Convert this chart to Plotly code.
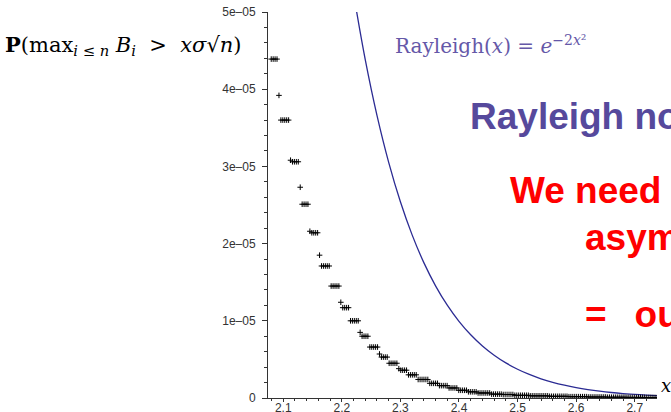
import plotly.graph_objects as go

# ---- data ----
# staircase of simulated probabilities (units of 1e-5), run-length: level, number of samples
step_levels = [4.39, 3.92, 3.60, 3.08, 3.06, 2.73, 2.51, 2.16, 2.14, 1.85, 1.71, 1.45,
               1.24, 1.17, 1.00, 0.85, 0.80, 0.66, 0.57, 0.53, 0.45, 0.38, 0.36, 0.30,
               0.24, 0.19, 0.16, 0.13, 0.10, 0.08, 0.065, 0.05, 0.045, 0.035, 0.028,
               0.022, 0.017, 0.013, 0.010, 0.008, 0.006]
step_counts = [4, 1, 5, 1, 4, 1, 4, 1, 4, 1, 5, 5,
               1, 4, 5, 1, 4, 5, 1, 4, 5, 1, 4, 5,
               6, 5, 5, 5, 5, 5, 7, 6, 6, 8, 10,
               10, 10, 10, 10, 10, 7]
sample_x_first = 2.0795
sample_x_spacing = 0.0033

# Rayleigh curve values e^{-2x^2}
ray_x = [2.22, 2.24, 2.26, 2.28, 2.30, 2.32, 2.34, 2.36, 2.38, 2.40, 2.42, 2.44, 2.46, 2.48,
         2.50, 2.52, 2.54, 2.56, 2.58, 2.60, 2.62, 2.64, 2.66, 2.68, 2.70, 2.72, 2.74]
ray_y = [5.2390e-5, 4.3830e-5, 3.6609e-5, 3.0531e-5, 2.5419e-5, 2.1130e-5, 1.7537e-5,
         1.4532e-5, 1.2021e-5, 9.929e-6, 8.188e-6, 6.742e-6, 5.541e-6, 4.548e-6,
         3.727e-6, 3.049e-6, 2.490e-6, 2.0304e-6, 1.6534e-6, 1.3438e-6, 1.0905e-6,
         8.834e-7, 7.148e-7, 5.771e-7, 4.656e-7, 3.748e-7, 3.013e-7]

x_tick_vals = [2.1, 2.2, 2.3, 2.4, 2.5, 2.6, 2.7]
x_tick_text = ["2.1", "2.2", "2.3", "2.4", "2.5", "2.6", "2.7"]
y_tick_vals = [0, 1e-5, 2e-5, 3e-5, 4e-5, 5e-5]
y_tick_text = ["0", "1e\u201305", "2e\u201305", "3e\u201305", "4e\u201305", "5e\u201305"]

# expand runs
dot_y = []
for lv, c in zip(step_levels, step_counts):
    dot_y += [lv * 1e-5] * c
dot_x = [sample_x_first + sample_x_spacing * i for i in range(len(dot_y))]

fig = go.Figure()
fig.add_trace(go.Scatter(x=ray_x, y=ray_y, mode="lines", line=dict(color="#2b2b93", width=1.3, shape="spline"),
                         showlegend=False, hoverinfo="skip"))
fig.add_trace(go.Scatter(x=dot_x, y=dot_y, mode="markers",
                         marker=dict(symbol="cross-thin", size=4, color="black",
                                     line=dict(color="black", width=1)),
                         showlegend=False, hoverinfo="skip"))

L, R, T, B = 268, 657, 12, 398
W, H = 671, 412

def px(p):
    return (p - L) / (R - L)

def py(p):
    return (B - p) / (B - T)

axis_common = dict(showgrid=False, zeroline=False, showline=True, linecolor="#333",
                   linewidth=1, ticks="outside", tickcolor="#333",
                   tickfont=dict(family="Liberation Sans, Arial", size=12, color="#333"),
                   automargin=False)

fig.update_layout(
    width=W, height=H,
    margin=dict(l=L, r=W - R, t=T, b=H - B),
    paper_bgcolor="white", plot_bgcolor="white",
    xaxis=dict(range=[2.074, 2.738], tickvals=x_tick_vals, ticktext=x_tick_text,
               ticklen=3, ticklabelstandoff=-4,
               minor=dict(dtick=0.02, ticks="outside", ticklen=2, tickcolor="#333"),
               **axis_common),
    yaxis=dict(range=[0, 5e-5], tickvals=y_tick_vals, ticktext=y_tick_text,
               ticklen=5, ticklabelstandoff=4,
               minor=dict(dtick=2e-6, ticks="outside", ticklen=3, tickcolor="#333"),
               **axis_common),
)

serif = "DejaVu Serif, Liberation Serif, serif"
sans = "Liberation Sans, Arial, sans-serif"
annos = [
    dict(text="<b>P</b>(max<sub><i>i</i> ≤ <i>n</i></sub>&nbsp;<i>B<sub>i</sub></i>&nbsp; > &nbsp;<i>xσ</i>√<i>n</i>)",
         x=px(3), y=py(46), xanchor="left", yanchor="middle",
         font=dict(family=serif, size=21, color="black")),
    dict(text="Rayleigh(<i>x</i>) = <i>e</i><sup>−2<i>x</i>²</sup>",
         x=px(393), y=py(45), xanchor="left", yanchor="middle",
         font=dict(family=serif, size=20, color="#6558a8")),
    dict(text="<b>Rayleigh not good enough</b>",
         x=px(468), y=py(117), xanchor="left", yanchor="middle",
         font=dict(family=sans, size=37, color="#56499c")),
    dict(text="<b>We need the</b>",
         x=px(508), y=py(190), xanchor="left", yanchor="middle",
         font=dict(family=sans, size=37, color="#ff0000")),
    dict(text="<b>asymptotics</b>",
         x=px(583), y=py(237), xanchor="left", yanchor="middle",
         font=dict(family=sans, size=37, color="#ff0000")),
    dict(text="<b>=&nbsp;&nbsp;\u2009our</b>",
         x=px(583), y=py(314), xanchor="left", yanchor="middle",
         font=dict(family=sans, size=37, color="#ff0000")),
    dict(text="<i>x</i>", x=px(666), y=py(385), xanchor="center", yanchor="middle",
         font=dict(family=serif, size=18, color="black")),
]
for a in annos:
    a.update(xref="paper", yref="paper", showarrow=False)
fig.update_layout(annotations=annos)

fig.write_html("out.html", config={"displayModeBar": False},
               post_script="document.body.style.margin='0';")
